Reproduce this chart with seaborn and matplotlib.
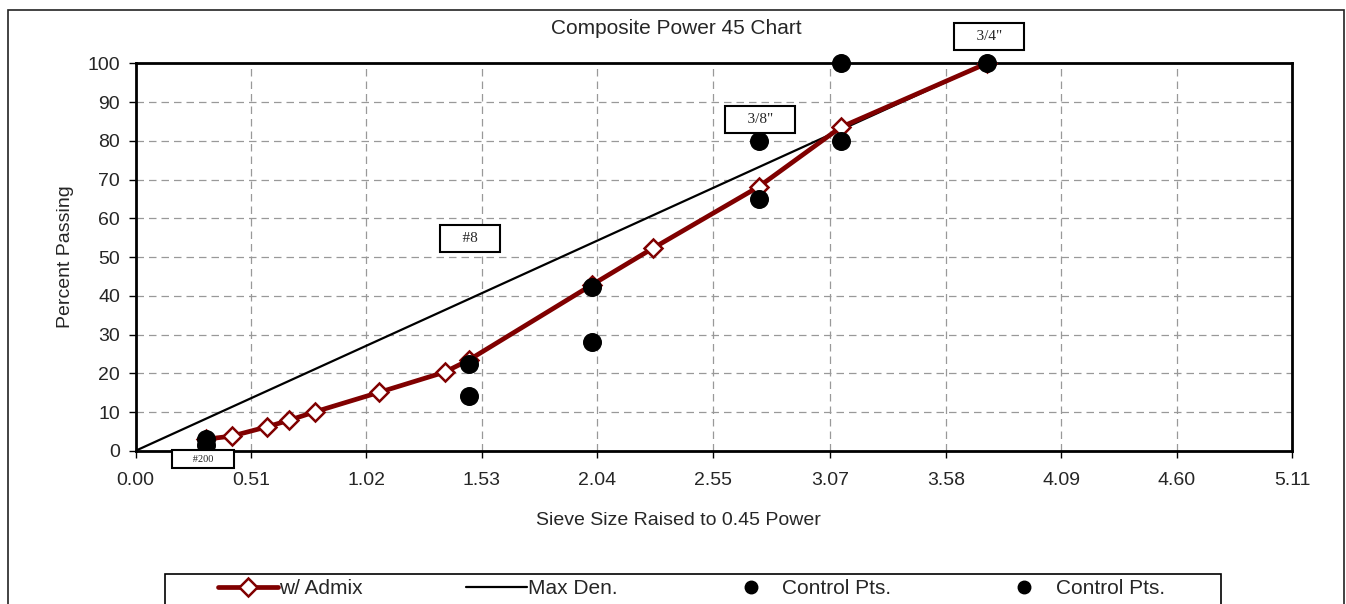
import numpy as np
import pandas as pd
import matplotlib
matplotlib.use("Agg")
import matplotlib.pyplot as plt
import seaborn as sns
from matplotlib.patches import Rectangle
from matplotlib.lines import Line2D

# sieve size (mm) raised to the 0.45 power
admix_x = [0.312, 0.426, 0.582, 0.680, 0.795, 1.077, 1.366, 1.472, 2.016, 2.287, 2.755, 3.116, 3.762]
admix_y = [3.0, 3.8, 6.2, 7.9, 10.1, 15.1, 20.3, 23.4, 42.8, 52.3, 68.2, 83.5, 100.0]

maxden_x = [0.0, 3.762]
maxden_y = [0.0, 100.0]

ctrl1_x = [0.312, 1.472, 2.016, 2.755, 3.116, 3.762]
ctrl1_y = [3.0, 22.3, 42.2, 80.0, 100.0, 100.0]
ctrl2_x = [0.312, 1.472, 2.016, 2.755, 3.116]
ctrl2_y = [1.5, 14.2, 28.2, 65.0, 80.0]

sieve_names = ["#200", "#8", "3/8\"", "3/4\""]
sieve_x = [0.312, 1.472, 2.755, 3.762]
sieve_y = [3.0, 22.3, 80.0, 100.0]

xticks = [0.00, 0.51, 1.02, 1.53, 2.04, 2.55, 3.07, 3.58, 4.09, 4.60, 5.11]
yticks = list(range(0, 101, 10))

FS = 14

sns.set_style("white")
plt.rcParams["font.family"] = ["Liberation Sans", "DejaVu Sans"]

fig = plt.figure(figsize=(13.46, 6.04), dpi=100)
ax = fig.add_axes([135.5 / 1346, 1 - 450.8 / 604, (1292 - 135.5) / 1346, (450.8 - 63.3) / 604])

# outer chart border (bottom is cut off in the original)
fig.patches.append(Rectangle((8 / 1346, -0.05), (1344 - 8) / 1346, 1 - 10 / 604 + 0.05,
                             transform=fig.transFigure, fill=False, ec="#222222", lw=1.2))

df_adm = pd.DataFrame({"x": admix_x, "y": admix_y})
df_max = pd.DataFrame({"x": maxden_x, "y": maxden_y})
df_c1 = pd.DataFrame({"x": ctrl1_x, "y": ctrl1_y})
df_c2 = pd.DataFrame({"x": ctrl2_x, "y": ctrl2_y})

sns.lineplot(data=df_max, x="x", y="y", ax=ax, color="black", lw=1.6, zorder=3)
sns.lineplot(data=df_adm, x="x", y="y", ax=ax, color="#800000", lw=3.4, sort=False,
             marker="D", markersize=9, markerfacecolor="white", markeredgecolor="#800000",
             markeredgewidth=1.8, zorder=4)
sns.scatterplot(data=df_c1, x="x", y="y", ax=ax, color="black", s=160, edgecolor="black",
                zorder=5, clip_on=False)
sns.scatterplot(data=df_c2, x="x", y="y", ax=ax, color="black", s=160, edgecolor="black",
                zorder=5, clip_on=False)

ax.set_xlim(0, 5.11)
ax.set_ylim(0, 100)
ax.set_xticks(xticks)
ax.set_xticklabels([f"{t:.2f}" for t in xticks])
ax.set_yticks(yticks)
ax.grid(True, color="#999999", ls=(0, (6, 4)), lw=0.9)
for s in ax.spines.values():
    s.set_visible(True)
    s.set_color("black")
    s.set_linewidth(2)
ax.tick_params(axis="both", direction="out", length=5, width=1, color="black",
               labelsize=FS, bottom=True, left=True)
ax.tick_params(axis="x", pad=10)
ax.tick_params(axis="y", pad=6)
ax.set_xlabel("Sieve Size Raised to 0.45 Power", fontsize=FS)
ax.xaxis.set_label_coords((678 - 135.5) / 1156.5, -(512 - 450.8) / 387.5)
ax.set_ylabel("Percent Passing", fontsize=FS, labelpad=10)
fig.text(676 / 1346, 1 - 28 / 604, "Composite Power 45 Chart", ha="center", va="center", fontsize=15)

# sieve labels, offset in pixels from their points
offsets = [(-3, -20), (1, 126), (1, 21), (2, 27)]
sizes = [7.5, 11, 11, 11]
for name, sx, sy, off, fs in zip(sieve_names, sieve_x, sieve_y, offsets, sizes):
    pad = "      " if name == "#200" else "    "
    ax.annotate(pad + name + pad, xy=(sx, sy), xytext=off, textcoords="offset pixels",
                ha="center", va="center", fontsize=fs, family="Liberation Serif",
                annotation_clip=False, zorder=6,
                bbox=dict(boxstyle="square,pad=0.45", fc="white", ec="black", lw=1.5))

handles = [
    Line2D([], [], color="#800000", lw=3.4, marker="D", markersize=9, markerfacecolor="white",
           markeredgecolor="#800000", markeredgewidth=1.8),
    Line2D([], [], color="black", lw=1.6),
    Line2D([], [], color="black", lw=0, marker="o", markersize=9),
    Line2D([], [], color="black", lw=0, marker="o", markersize=9),
]
labels = ["w/ Admix", "Max Den.", "Control Pts.", "Control Pts."]

# legend frame drawn separately, entries placed inside it
fig.patches.append(Rectangle((165 / 1346, -0.05), (1221 - 165) / 1346, 0.05 + 1 - 574 / 604,
                             transform=fig.transFigure, fill=False, ec="black", lw=1.2))
leg = fig.legend(handles, labels, loc="center left", ncol=4,
                 bbox_to_anchor=(218 / 1346, 1 - 589 / 604),
                 fontsize=15, frameon=False, handlelength=2.9,
                 handletextpad=0.05, columnspacing=4.95, borderpad=0, borderaxespad=0)

fig.savefig("out.png", dpi=100)
